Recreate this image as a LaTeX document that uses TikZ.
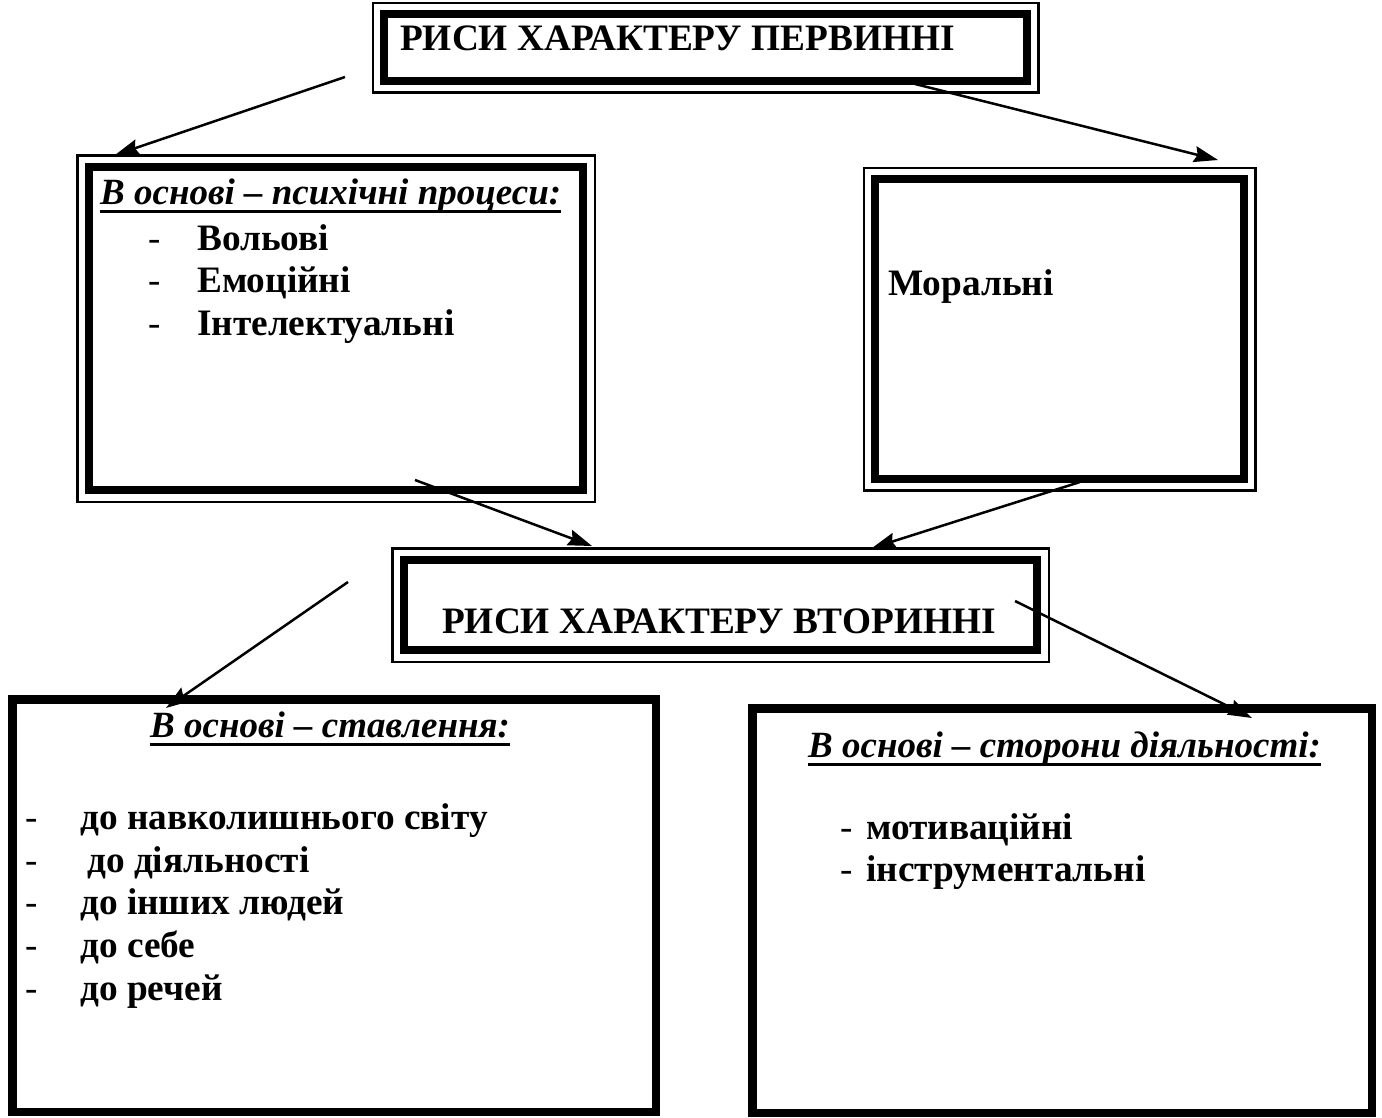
\documentclass[tikz,border=0pt]{standalone}
\usepackage{fontspec}
\setmainfont{Liberation Serif}
\usetikzlibrary{arrows.meta,fit}
\begin{document}
\begin{tikzpicture}[x=1pt,y=-1pt,
 thickbox/.style={draw,line width=8.5pt,inner sep=0pt},
 thinline/.style={line width=2.5pt},
 arr/.style={line width=2.5pt,-{Stealth[length=24pt,width=16pt,inset=3pt]}},
 txt/.style={inner sep=0pt,anchor=base west,font=\fontsize{37.3}{44}\selectfont\bfseries},
 hdr/.style={inner sep=0pt,anchor=base west,font=\fontsize{37}{44}\selectfont\bfseries\itshape},
 hyph/.style={inner sep=0pt,anchor=base west,font=\fontsize{37}{44}\selectfont},
 uline/.style={line width=3pt}
]
\useasboundingbox (0,0) rectangle (1382,1117);
\fill[white] (0,0) rectangle (1382,1117);

% boxes
\node[thickbox,fit={(384,14) (1027,81)}] (top) {};
\draw[thinline] ([shift={(-7,-7)}]top.north west) rectangle ([shift={(7,7)}]top.south east);
\node[thickbox,fit={(89,167) (583,490)}] (lbox) {};
\draw[thinline] ([shift={(-7.5,-7.5)}]lbox.north west) rectangle ([shift={(7.5,7.5)}]lbox.south east);
\node[thickbox,fit={(875,179) (1244,479)}] (rbox) {};
\draw[thinline] ([shift={(-7,-7)}]rbox.north west) rectangle ([shift={(7,7)}]rbox.south east);
\node[thickbox,fit={(404,560) (1037,650)}] (mid) {};
\draw[thinline] ([shift={(-7.5,-7.5)}]mid.north west) rectangle ([shift={(7.5,7.5)}]mid.south east);
\node[thickbox,fit={(12,699) (656,1112)}] (bl) {};
\draw[thinline] ([shift={(7.5,7.5)}]bl.north west) rectangle ([shift={(-7.5,-7.5)}]bl.south east);
\node[thickbox,fit={(752,708) (1372,1113)}] (br) {};
\draw[thinline] ([shift={(7.5,7.5)}]br.north west) rectangle ([shift={(-7.5,-7.5)}]br.south east);

% texts
\node[txt] (t1) at (400,50) {РИСИ ХАРАКТЕРУ ПЕРВИННІ};
\node[hdr] (h1) at (100,204) {В основі – психічні процеси:};
\draw[uline] ([yshift=-7pt]h1.base west) -- ([yshift=-7pt]h1.base east);
\node[hyph] (d11) at (148,250) {-};
\node[txt] (l11) at (197,250) {Вольові};
\node[hyph] (d12) at (148,292) {-};
\node[txt] (l12) at (197,292) {Емоційні};
\node[hyph] (d13) at (148,335) {-};
\node[txt] (l13) at (197,335) {Інтелектуальні};
\node[txt] (mor) at (888,295) {Моральні};
\node[txt] (t2) at (442,633) {РИСИ ХАРАКТЕРУ ВТОРИННІ};

\node[hdr] (h2) at (150,737) {В основі – ставлення:};
\draw[uline] ([yshift=-7pt]h2.base west) -- ([yshift=-7pt]h2.base east);
\node[hyph] (d21) at (25,829) {-};
\node[txt] (l21) at (80,829) {до навколишнього світу};
\node[hyph] (d22) at (25,872) {-};
\node[txt] (l22) at (87,872) {до діяльності};
\node[hyph] (d23) at (25,914) {-};
\node[txt] (l23) at (80,914) {до інших людей};
\node[hyph] (d24) at (25,957) {-};
\node[txt] (l24) at (80,957) {до себе};
\node[hyph] (d25) at (25,1000) {-};
\node[txt] (l25) at (80,1000) {до речей};

\node[hdr] (h3) at (808,757) {В основі – сторони діяльності:};
\draw[uline] ([yshift=-7pt]h3.base west) -- ([yshift=-7pt]h3.base east);
\node[hyph] (d31) at (840,839) {-};
\node[txt] (l31) at (866,839) {мотиваційні};
\node[hyph] (d32) at (840,881) {-};
\node[txt] (l32) at (866,881) {інструментальні};

% connectors
\coordinate (a1s) at (345,77);  \coordinate (a1e) at (115,155);
\coordinate (a2s) at (915,84);  \coordinate (a2e) at (1218,160);
\coordinate (a3s) at (415,480); \coordinate (a3e) at (592,546);
\coordinate (a4s) at (1080,482); \coordinate (a4e) at (872,548);
\coordinate (a5s) at (348,582); \coordinate (a5e) at (166,708);
\coordinate (a6s) at (1015,601); \coordinate (a6e) at (1252,718);
\draw[arr] (a1s) -- (a1e);
\draw[arr] (a2s) -- (a2e);
\draw[arr] (a3s) -- (a3e);
\draw[arr] (a4s) -- (a4e);
\draw[arr] (a5s) -- (a5e);
\draw[arr] (a6s) -- (a6e);
\end{tikzpicture}
\end{document}
